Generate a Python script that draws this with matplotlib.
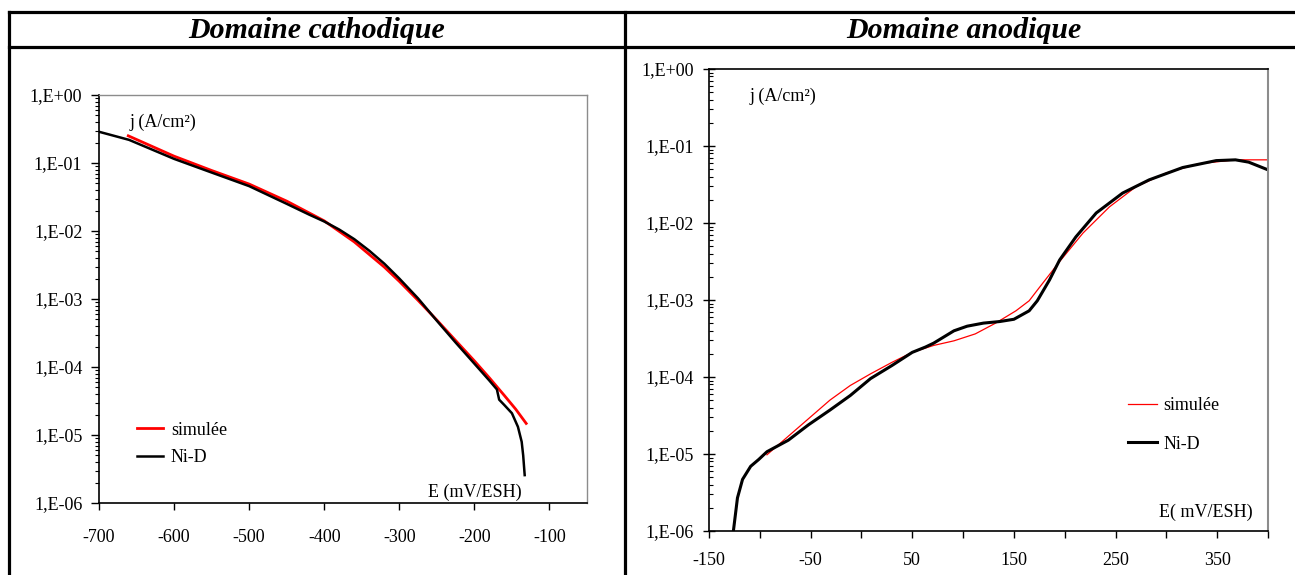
import matplotlib
matplotlib.use("Agg")
import matplotlib.pyplot as plt
from matplotlib.lines import Line2D
from matplotlib.ticker import FixedLocator, FixedFormatter, LogLocator, NullFormatter

plt.rcParams['font.family'] = ['Liberation Serif', 'DejaVu Serif']

# ---------------- data ----------------
titles = ["Domaine cathodique", "Domaine anodique"]
legend_labels = ["simulée", "Ni-D"]
ylabels_text = ["j (A/cm²)", "j (A/cm²)"]
xlabels_text = ["E (mV/ESH)", "E( mV/ESH)"]

y_tick_values = [1e-6, 1e-5, 1e-4, 1e-3, 1e-2, 1e-1, 1e0]
y_tick_labels = ["1,E-06", "1,E-05", "1,E-04", "1,E-03", "1,E-02", "1,E-01", "1,E+00"]

cath_x_ticks = [-700, -600, -500, -400, -300, -200, -100]
cath_x_labels = ["-700", "-600", "-500", "-400", "-300", "-200", "-100"]
anod_x_ticks = [-150, -100, -50, 0, 50, 100, 150, 200, 250, 300, 350, 400]
anod_x_labels = ["-150", "", "-50", "", "50", "", "150", "", "250", "", "350", ""]

# cathodic: measured Ni-D
cath_nid_E = [-700, -660, -600, -550, -500, -450, -420, -400, -380, -360, -340, -320,
              -300, -275, -250, -225, -200, -180, -170, -167, -160, -150, -142, -137,
              -135, -133]
cath_nid_j = [2.88e-1, 2.19e-1, 1.15e-1, 7.24e-2, 4.57e-2, 2.51e-2, 1.74e-2, 1.38e-2,
              1.05e-2, 7.59e-3, 5.13e-3, 3.31e-3, 2.0e-3, 1.02e-3, 4.79e-4, 2.29e-4,
              1.12e-4, 6.31e-5, 4.68e-5, 3.31e-5, 2.75e-5, 2.09e-5, 1.32e-5, 7.94e-6,
              5.01e-6, 2.57e-6]
# cathodic: simulated
cath_sim_E = [-661, -600, -550, -500, -450, -400, -360, -320, -300, -275, -250, -225,
              -200, -180, -160, -145, -131]
cath_sim_j = [2.51e-1, 1.26e-1, 7.76e-2, 4.9e-2, 2.75e-2, 1.41e-2, 6.92e-3, 2.95e-3,
              1.82e-3, 9.55e-4, 4.9e-4, 2.45e-4, 1.23e-4, 6.92e-5, 3.8e-5, 2.4e-5, 1.48e-5]

# anodic: measured Ni-D
anod_nid_E = [-126, -122, -117, -109, -101, -93, -72, -52, -31, -11, 9, 30, 50, 63, 71,
              91, 104, 120, 136, 150, 165, 173, 185, 195, 211, 231, 257, 283, 316, 349,
              368, 381, 400]
anod_nid_j = [1.0e-6, 2.69e-6, 4.68e-6, 6.92e-6, 8.51e-6, 1.07e-5, 1.51e-5, 2.4e-5,
              3.72e-5, 5.75e-5, 9.55e-5, 1.41e-4, 2.09e-4, 2.45e-4, 2.75e-4, 3.98e-4,
              4.57e-4, 5.01e-4, 5.25e-4, 5.62e-4, 7.24e-4, 9.77e-4, 1.82e-3, 3.31e-3,
              6.61e-3, 1.35e-2, 2.45e-2, 3.63e-2, 5.25e-2, 6.46e-2, 6.61e-2, 6.17e-2,
              4.9e-2]
# anodic: simulated
anod_sim_E = [-93, -72, -52, -31, -11, 9, 30, 50, 71, 91, 112, 132, 152, 165, 175, 195,
              218, 244, 270, 300, 332, 368, 400]
anod_sim_j = [9.77e-6, 1.7e-5, 2.88e-5, 5.01e-5, 7.76e-5, 1.1e-4, 1.55e-4, 2.09e-4,
              2.57e-4, 2.95e-4, 3.63e-4, 5.01e-4, 7.24e-4, 9.77e-4, 1.45e-3, 3.16e-3,
              7.41e-3, 1.62e-2, 2.95e-2, 4.47e-2, 5.89e-2, 6.61e-2, 6.61e-2]

# ---------------- figure ----------------
W, H = 1295, 575
fig = plt.figure(figsize=(W / 100, H / 100), dpi=100)


def fx(px):
    return px / W


def fy(py):
    return 1 - py / H


# table frame
lw_tab = 2.3
for (x0, y0, x1, y1) in [(9, 12, W + 5, 12), (9, 47, W + 5, 47), (9, 12, 9, H + 5),
                         (625, 12, 625, H + 5)]:
    fig.add_artist(Line2D([fx(x0), fx(x1)], [fy(y0), fy(y1)], color='black',
                          lw=lw_tab, transform=fig.transFigure, solid_capstyle='projecting'))

fig.text(fx(317), fy(30), titles[0], ha='center', va='center', fontsize=21.5,
         fontweight='bold', fontstyle='italic')
fig.text(fx(964), fy(30), titles[1], ha='center', va='center', fontsize=21.5,
         fontweight='bold', fontstyle='italic')

FS = 13

# ---------- left: cathodic ----------
axL = fig.add_axes([fx(99), fy(503), fx(587) - fx(99), fy(95) - fy(503)])
axL.set_yscale('log')
axL.set_xlim(-700, -50)
axL.set_ylim(1e-6, 1e0)
axL.plot(cath_sim_E, cath_sim_j, color='#ff0000', lw=2.0, label=legend_labels[0])
axL.plot(cath_nid_E, cath_nid_j, color='black', lw=1.8, label=legend_labels[1])
axL.xaxis.set_major_locator(FixedLocator(cath_x_ticks))
axL.xaxis.set_major_formatter(FixedFormatter(cath_x_labels))
axL.yaxis.set_major_locator(FixedLocator(y_tick_values))
axL.yaxis.set_major_formatter(FixedFormatter(y_tick_labels))
axL.yaxis.set_minor_locator(LogLocator(base=10, subs=range(2, 10), numticks=20))
axL.yaxis.set_minor_formatter(NullFormatter())
axL.tick_params(axis='x', which='major', direction='out', length=5, width=1, pad=14,
                labelsize=FS)
axL.tick_params(axis='y', which='major', direction='out', length=6, width=1, pad=6,
                labelsize=FS)
axL.tick_params(axis='y', which='minor', direction='out', length=3, width=0.8)
axL.tick_params(axis='x', which='minor', bottom=False)
for s in ['top', 'right']:
    axL.spines[s].set_color('#8c8c8c')
    axL.spines[s].set_linewidth(1.0)
for s in ['left', 'bottom']:
    axL.spines[s].set_color('black')
    axL.spines[s].set_linewidth(1.2)
axL.text(-659, 10 ** (-0.40), ylabels_text[0], fontsize=FS, ha='left', va='center')
axL.text(-137, 10 ** (-5.84), xlabels_text[0], fontsize=FS, ha='right', va='center')
axL.legend(loc='lower left', bbox_to_anchor=(0.064, 0.072), frameon=False, fontsize=FS,
           handlelength=1.4, handletextpad=0.45, labelspacing=0.6, borderaxespad=0)

# ---------- right: anodic ----------
axR = fig.add_axes([fx(709), fy(531), fx(1268) - fx(709), fy(69) - fy(531)])
axR.set_yscale('log')
axR.set_xlim(-150, 400)
axR.set_ylim(1e-6, 1e0)
axR.plot(anod_sim_E, anod_sim_j, color='#ff0000', lw=0.9, label=legend_labels[0])
axR.plot(anod_nid_E, anod_nid_j, color='black', lw=2.2, label=legend_labels[1])
axR.xaxis.set_major_locator(FixedLocator(anod_x_ticks))
axR.xaxis.set_major_formatter(FixedFormatter(anod_x_labels))
axR.yaxis.set_major_locator(FixedLocator(y_tick_values))
axR.yaxis.set_major_formatter(FixedFormatter(y_tick_labels))
axR.yaxis.set_minor_locator(LogLocator(base=10, subs=range(2, 10), numticks=20))
axR.yaxis.set_minor_formatter(NullFormatter())
axR.tick_params(axis='x', which='major', direction='out', length=5, width=1, pad=10,
                labelsize=FS)
axR.tick_params(axis='y', which='major', direction='inout', length=8, width=1, pad=7,
                labelsize=FS)
axR.tick_params(axis='y', which='minor', direction='in', length=3, width=0.8)
axR.tick_params(axis='x', which='minor', bottom=False)
for s in ['left', 'bottom', 'top']:
    axR.spines[s].set_color('black')
    axR.spines[s].set_linewidth(1.2)
axR.spines['right'].set_color('#8c8c8c')
axR.spines['right'].set_linewidth(1.5)
axR.text(-110, 10 ** (-0.36), ylabels_text[1], fontsize=FS, ha='left', va='center')
axR.text(385, 10 ** (-5.76), xlabels_text[1], fontsize=FS, ha='right', va='center')
axR.legend(loc='lower left', bbox_to_anchor=(0.737, 0.154), frameon=False, fontsize=FS,
           handlelength=1.6, handletextpad=0.35, labelspacing=1.2, borderaxespad=0)

fig.savefig("out.png", dpi=100)
